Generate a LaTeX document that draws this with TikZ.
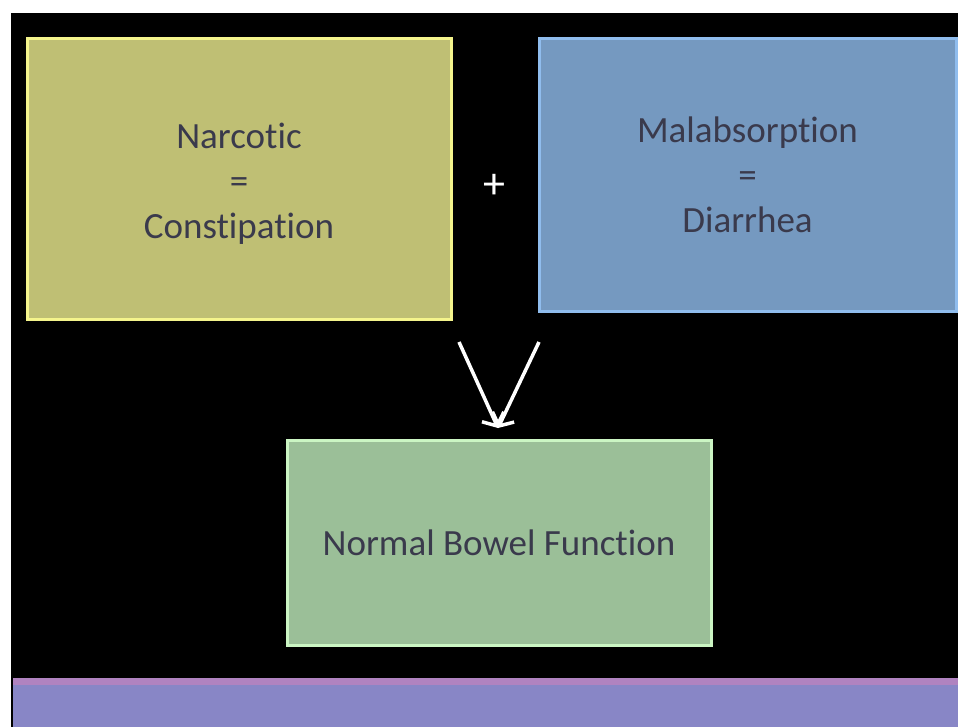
\documentclass[tikz,border=0pt]{standalone}
\usepackage{fontspec}
\setmainfont{Carlito}[Ligatures=NoCommon]
\usetikzlibrary{arrows.meta}

\definecolor{inkgray}{HTML}{3A3A4C}
\definecolor{narcfill}{HTML}{BFBF74}
\definecolor{narcedge}{HTML}{F4F48C}
\definecolor{malfill}{HTML}{7599C0}
\definecolor{maledge}{HTML}{90BDEE}
\definecolor{normfill}{HTML}{9BBF98}
\definecolor{normedge}{HTML}{CBF5C3}
\definecolor{bandtop}{HTML}{B083C0}
\definecolor{bandfill}{HTML}{8886C6}

\tikzset{
  effectbox/.style={draw, line width=3pt, inner sep=0pt, align=center,
    text=inkgray, font=\fontsize{37}{45}\selectfont},
  flowarrow/.style={draw=white, line width=3.5pt,
    -{Straight Barb[length=10pt,width=24pt,line width=3.5pt]}}
}

\begin{document}
\begin{tikzpicture}[x=1pt,y=-1pt]
      % ---- page and background ------------------------
      \useasboundingbox (0,0) rectangle (958,727);
      \fill[white] (0,0) rectangle (958,727);
      \fill[black] (11,13) rectangle (958,727);
      \fill[bandfill] (13,678) rectangle (958,727);
      \fill[bandtop] (13,678) rectangle (958,685);

      % ---- the three boxes ----------------------------
      \node[effectbox, fill=narcfill, draw=narcedge,
            minimum width=424pt, minimum height=280pt] (narcotic) at (239,179)
            {\rule{0pt}{34pt}Narcotic\\=\\Constipation};
      \node[effectbox, fill=malfill, draw=maledge,
            minimum width=417pt, minimum height=272pt] (malabs) at (747.5,175)
            {Malabsorption\\=\\Diarrhea};
      \node[effectbox, fill=normfill, draw=normedge,
            minimum width=424pt, minimum height=205pt] (normal) at (499,543)
            {Normal Bowel Function};

      % ---- plus sign between the boxes ----------------
      \node[text=white, font=\fontsize{44}{50}\selectfont] (plus) at (494,186) {+};

      % ---- arrows into the result ---------------------
      \coordinate (narcfoot) at (459,342);
      \coordinate (malfoot) at (539,342);
      \coordinate (meet) at (498,428);
      \draw[flowarrow] (narcfoot) -- (meet);
      \draw[flowarrow] (malfoot) -- (meet);
    \end{tikzpicture}
\end{document}
